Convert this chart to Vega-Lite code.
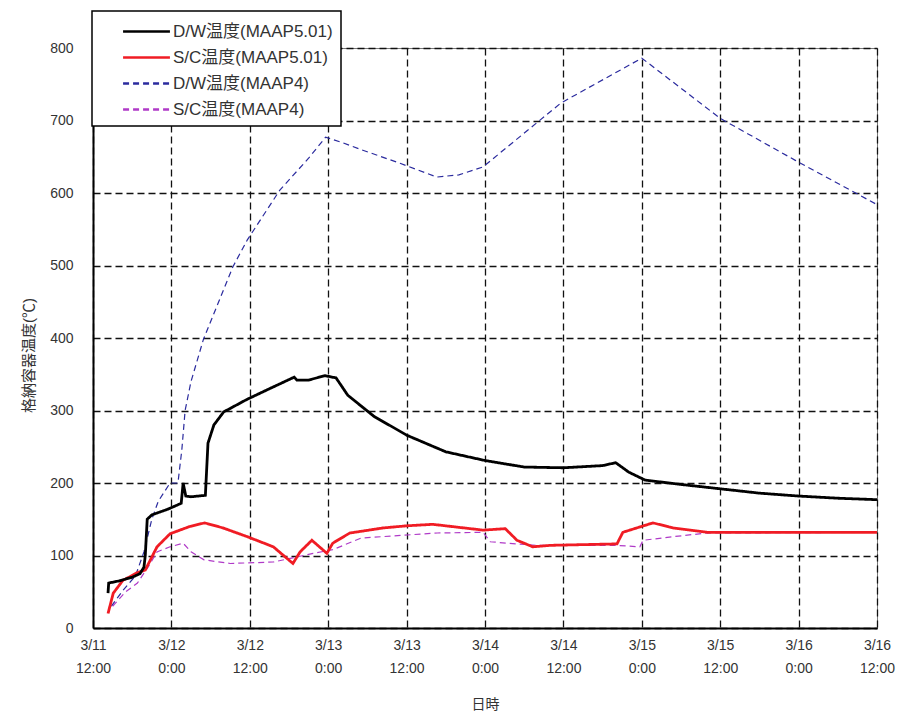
{
  "$schema": "https://vega.github.io/schema/vega-lite/v6.json",
  "width": 784,
  "height": 580,
  "autosize": "none",
  "padding": {"left": 93, "top": 48, "right": 26, "bottom": 90},
  "background": "white",
  "config": {
    "font": "Liberation Sans, Noto Sans CJK JP, sans-serif",
    "view": {"stroke": "#777", "strokeWidth": 1},
    "axis": {
      "domainColor": "#000",
      "domainWidth": 2,
      "grid": true,
      "gridColor": "#111",
      "gridDash": [7, 4],
      "gridWidth": 1.3,
      "gridOpacity": 1,
      "ticks": false,
      "labelColor": "#333",
      "labelFontSize": 14,
      "titleColor": "#333",
      "titleFontSize": 15,
      "titleFontWeight": "normal"
    },
    "legend": {
      "orient": "none",
      "legendX": -1,
      "legendY": -37,
      "fillColor": "white",
      "strokeColor": "#000",
      "strokeWidth": 1.5,
      "padding": 8,
      "symbolType": "M-2.13,0H2.13",
      "symbolSize": 484,
      "symbolStrokeWidth": 2.5,
      "symbolOffset": 34,
      "labelOffset": 14,
      "labelFontSize": 17,
      "labelColor": "#333",
      "rowPadding": 5
    }
  },
  "data": {
    "values": [
      {"series": "D/W温度(MAAP5.01)", "time": "2011-03-11T14:18:00Z", "temp": 48},
      {"series": "D/W温度(MAAP5.01)", "time": "2011-03-11T14:24:00Z", "temp": 62},
      {"series": "D/W温度(MAAP5.01)", "time": "2011-03-11T16:00:00Z", "temp": 65},
      {"series": "D/W温度(MAAP5.01)", "time": "2011-03-11T18:00:00Z", "temp": 70},
      {"series": "D/W温度(MAAP5.01)", "time": "2011-03-11T19:12:00Z", "temp": 75},
      {"series": "D/W温度(MAAP5.01)", "time": "2011-03-11T19:48:00Z", "temp": 84},
      {"series": "D/W温度(MAAP5.01)", "time": "2011-03-11T20:00:00Z", "temp": 100},
      {"series": "D/W温度(MAAP5.01)", "time": "2011-03-11T20:18:00Z", "temp": 150},
      {"series": "D/W温度(MAAP5.01)", "time": "2011-03-11T21:00:00Z", "temp": 156},
      {"series": "D/W温度(MAAP5.01)", "time": "2011-03-11T23:30:00Z", "temp": 164},
      {"series": "D/W温度(MAAP5.01)", "time": "2011-03-12T01:30:00Z", "temp": 172},
      {"series": "D/W温度(MAAP5.01)", "time": "2011-03-12T01:48:00Z", "temp": 200},
      {"series": "D/W温度(MAAP5.01)", "time": "2011-03-12T02:12:00Z", "temp": 182},
      {"series": "D/W温度(MAAP5.01)", "time": "2011-03-12T03:00:00Z", "temp": 181},
      {"series": "D/W温度(MAAP5.01)", "time": "2011-03-12T05:12:00Z", "temp": 183},
      {"series": "D/W温度(MAAP5.01)", "time": "2011-03-12T05:36:00Z", "temp": 255},
      {"series": "D/W温度(MAAP5.01)", "time": "2011-03-12T06:30:00Z", "temp": 280},
      {"series": "D/W温度(MAAP5.01)", "time": "2011-03-12T08:00:00Z", "temp": 298},
      {"series": "D/W温度(MAAP5.01)", "time": "2011-03-12T11:30:00Z", "temp": 315},
      {"series": "D/W温度(MAAP5.01)", "time": "2011-03-12T15:00:00Z", "temp": 330},
      {"series": "D/W温度(MAAP5.01)", "time": "2011-03-12T18:48:00Z", "temp": 346},
      {"series": "D/W温度(MAAP5.01)", "time": "2011-03-12T19:12:00Z", "temp": 342},
      {"series": "D/W温度(MAAP5.01)", "time": "2011-03-12T21:00:00Z", "temp": 342},
      {"series": "D/W温度(MAAP5.01)", "time": "2011-03-12T23:30:00Z", "temp": 348},
      {"series": "D/W温度(MAAP5.01)", "time": "2011-03-13T01:12:00Z", "temp": 345},
      {"series": "D/W温度(MAAP5.01)", "time": "2011-03-13T03:00:00Z", "temp": 321},
      {"series": "D/W温度(MAAP5.01)", "time": "2011-03-13T07:00:00Z", "temp": 292},
      {"series": "D/W温度(MAAP5.01)", "time": "2011-03-13T12:00:00Z", "temp": 266},
      {"series": "D/W温度(MAAP5.01)", "time": "2011-03-13T18:00:00Z", "temp": 243},
      {"series": "D/W温度(MAAP5.01)", "time": "2011-03-14T00:00:00Z", "temp": 231},
      {"series": "D/W温度(MAAP5.01)", "time": "2011-03-14T06:00:00Z", "temp": 222},
      {"series": "D/W温度(MAAP5.01)", "time": "2011-03-14T12:00:00Z", "temp": 221},
      {"series": "D/W温度(MAAP5.01)", "time": "2011-03-14T18:00:00Z", "temp": 224},
      {"series": "D/W温度(MAAP5.01)", "time": "2011-03-14T20:00:00Z", "temp": 228},
      {"series": "D/W温度(MAAP5.01)", "time": "2011-03-14T22:00:00Z", "temp": 215},
      {"series": "D/W温度(MAAP5.01)", "time": "2011-03-15T00:30:00Z", "temp": 204},
      {"series": "D/W温度(MAAP5.01)", "time": "2011-03-15T06:00:00Z", "temp": 198},
      {"series": "D/W温度(MAAP5.01)", "time": "2011-03-15T12:00:00Z", "temp": 192},
      {"series": "D/W温度(MAAP5.01)", "time": "2011-03-15T18:00:00Z", "temp": 186},
      {"series": "D/W温度(MAAP5.01)", "time": "2011-03-16T00:00:00Z", "temp": 182},
      {"series": "D/W温度(MAAP5.01)", "time": "2011-03-16T06:00:00Z", "temp": 179},
      {"series": "D/W温度(MAAP5.01)", "time": "2011-03-16T12:00:00Z", "temp": 177},

      {"series": "S/C温度(MAAP5.01)", "time": "2011-03-11T14:18:00Z", "temp": 20},
      {"series": "S/C温度(MAAP5.01)", "time": "2011-03-11T15:06:00Z", "temp": 48},
      {"series": "S/C温度(MAAP5.01)", "time": "2011-03-11T16:36:00Z", "temp": 66},
      {"series": "S/C温度(MAAP5.01)", "time": "2011-03-11T17:30:00Z", "temp": 70},
      {"series": "S/C温度(MAAP5.01)", "time": "2011-03-11T18:42:00Z", "temp": 76},
      {"series": "S/C温度(MAAP5.01)", "time": "2011-03-11T20:00:00Z", "temp": 80},
      {"series": "S/C温度(MAAP5.01)", "time": "2011-03-11T21:48:00Z", "temp": 112},
      {"series": "S/C温度(MAAP5.01)", "time": "2011-03-11T23:48:00Z", "temp": 130},
      {"series": "S/C温度(MAAP5.01)", "time": "2011-03-12T02:48:00Z", "temp": 140},
      {"series": "S/C温度(MAAP5.01)", "time": "2011-03-12T05:06:00Z", "temp": 145},
      {"series": "S/C温度(MAAP5.01)", "time": "2011-03-12T07:54:00Z", "temp": 138},
      {"series": "S/C温度(MAAP5.01)", "time": "2011-03-12T11:36:00Z", "temp": 126},
      {"series": "S/C温度(MAAP5.01)", "time": "2011-03-12T15:36:00Z", "temp": 112},
      {"series": "S/C温度(MAAP5.01)", "time": "2011-03-12T18:36:00Z", "temp": 89},
      {"series": "S/C温度(MAAP5.01)", "time": "2011-03-12T19:42:00Z", "temp": 105},
      {"series": "S/C温度(MAAP5.01)", "time": "2011-03-12T21:30:00Z", "temp": 121},
      {"series": "S/C温度(MAAP5.01)", "time": "2011-03-12T23:48:00Z", "temp": 103},
      {"series": "S/C温度(MAAP5.01)", "time": "2011-03-13T00:42:00Z", "temp": 117},
      {"series": "S/C温度(MAAP5.01)", "time": "2011-03-13T03:18:00Z", "temp": 131},
      {"series": "S/C温度(MAAP5.01)", "time": "2011-03-13T08:24:00Z", "temp": 138},
      {"series": "S/C温度(MAAP5.01)", "time": "2011-03-13T12:06:00Z", "temp": 141},
      {"series": "S/C温度(MAAP5.01)", "time": "2011-03-13T16:00:00Z", "temp": 143},
      {"series": "S/C温度(MAAP5.01)", "time": "2011-03-13T23:42:00Z", "temp": 135},
      {"series": "S/C温度(MAAP5.01)", "time": "2011-03-14T03:06:00Z", "temp": 137},
      {"series": "S/C温度(MAAP5.01)", "time": "2011-03-14T04:54:00Z", "temp": 121},
      {"series": "S/C温度(MAAP5.01)", "time": "2011-03-14T07:18:00Z", "temp": 112},
      {"series": "S/C温度(MAAP5.01)", "time": "2011-03-14T10:00:00Z", "temp": 114},
      {"series": "S/C温度(MAAP5.01)", "time": "2011-03-14T20:12:00Z", "temp": 116},
      {"series": "S/C温度(MAAP5.01)", "time": "2011-03-14T21:06:00Z", "temp": 132},
      {"series": "S/C温度(MAAP5.01)", "time": "2011-03-15T01:42:00Z", "temp": 145},
      {"series": "S/C温度(MAAP5.01)", "time": "2011-03-15T04:48:00Z", "temp": 138},
      {"series": "S/C温度(MAAP5.01)", "time": "2011-03-15T10:00:00Z", "temp": 132},
      {"series": "S/C温度(MAAP5.01)", "time": "2011-03-16T12:00:00Z", "temp": 132},

      {"series": "D/W温度(MAAP4)", "time": "2011-03-11T14:48:00Z", "temp": 30},
      {"series": "D/W温度(MAAP4)", "time": "2011-03-11T16:36:00Z", "temp": 52},
      {"series": "D/W温度(MAAP4)", "time": "2011-03-11T18:30:00Z", "temp": 72},
      {"series": "D/W温度(MAAP4)", "time": "2011-03-11T19:48:00Z", "temp": 105},
      {"series": "D/W温度(MAAP4)", "time": "2011-03-11T21:00:00Z", "temp": 150},
      {"series": "D/W温度(MAAP4)", "time": "2011-03-11T22:00:00Z", "temp": 175},
      {"series": "D/W温度(MAAP4)", "time": "2011-03-11T23:48:00Z", "temp": 200},
      {"series": "D/W温度(MAAP4)", "time": "2011-03-12T01:00:00Z", "temp": 200},
      {"series": "D/W温度(MAAP4)", "time": "2011-03-12T01:36:00Z", "temp": 246},
      {"series": "D/W温度(MAAP4)", "time": "2011-03-12T02:06:00Z", "temp": 300},
      {"series": "D/W温度(MAAP4)", "time": "2011-03-12T03:00:00Z", "temp": 340},
      {"series": "D/W温度(MAAP4)", "time": "2011-03-12T04:54:00Z", "temp": 398},
      {"series": "D/W温度(MAAP4)", "time": "2011-03-12T09:24:00Z", "temp": 498},
      {"series": "D/W温度(MAAP4)", "time": "2011-03-12T11:36:00Z", "temp": 535},
      {"series": "D/W温度(MAAP4)", "time": "2011-03-12T16:36:00Z", "temp": 604},
      {"series": "D/W温度(MAAP4)", "time": "2011-03-12T21:00:00Z", "temp": 648},
      {"series": "D/W温度(MAAP4)", "time": "2011-03-12T23:36:00Z", "temp": 677},
      {"series": "D/W温度(MAAP4)", "time": "2011-03-13T02:00:00Z", "temp": 670},
      {"series": "D/W温度(MAAP4)", "time": "2011-03-13T05:00:00Z", "temp": 660},
      {"series": "D/W温度(MAAP4)", "time": "2011-03-13T11:00:00Z", "temp": 641},
      {"series": "D/W温度(MAAP4)", "time": "2011-03-13T16:36:00Z", "temp": 622},
      {"series": "D/W温度(MAAP4)", "time": "2011-03-13T20:00:00Z", "temp": 625},
      {"series": "D/W温度(MAAP4)", "time": "2011-03-13T23:42:00Z", "temp": 636},
      {"series": "D/W温度(MAAP4)", "time": "2011-03-14T11:36:00Z", "temp": 724},
      {"series": "D/W温度(MAAP4)", "time": "2011-03-15T00:00:00Z", "temp": 786},
      {"series": "D/W温度(MAAP4)", "time": "2011-03-15T12:00:00Z", "temp": 703},
      {"series": "D/W温度(MAAP4)", "time": "2011-03-15T23:30:00Z", "temp": 645},
      {"series": "D/W温度(MAAP4)", "time": "2011-03-16T12:00:00Z", "temp": 584},

      {"series": "S/C温度(MAAP4)", "time": "2011-03-11T15:00:00Z", "temp": 30},
      {"series": "S/C温度(MAAP4)", "time": "2011-03-11T17:00:00Z", "temp": 50},
      {"series": "S/C温度(MAAP4)", "time": "2011-03-11T18:48:00Z", "temp": 62},
      {"series": "S/C温度(MAAP4)", "time": "2011-03-11T20:30:00Z", "temp": 85},
      {"series": "S/C温度(MAAP4)", "time": "2011-03-11T21:48:00Z", "temp": 105},
      {"series": "S/C温度(MAAP4)", "time": "2011-03-11T23:48:00Z", "temp": 112},
      {"series": "S/C温度(MAAP4)", "time": "2011-03-12T01:48:00Z", "temp": 117},
      {"series": "S/C温度(MAAP4)", "time": "2011-03-12T03:00:00Z", "temp": 105},
      {"series": "S/C温度(MAAP4)", "time": "2011-03-12T05:00:00Z", "temp": 94},
      {"series": "S/C温度(MAAP4)", "time": "2011-03-12T09:00:00Z", "temp": 89},
      {"series": "S/C温度(MAAP4)", "time": "2011-03-12T15:36:00Z", "temp": 91},
      {"series": "S/C温度(MAAP4)", "time": "2011-03-12T19:12:00Z", "temp": 98},
      {"series": "S/C温度(MAAP4)", "time": "2011-03-12T21:42:00Z", "temp": 103},
      {"series": "S/C温度(MAAP4)", "time": "2011-03-13T00:42:00Z", "temp": 108},
      {"series": "S/C温度(MAAP4)", "time": "2011-03-13T05:00:00Z", "temp": 124},
      {"series": "S/C温度(MAAP4)", "time": "2011-03-13T11:30:00Z", "temp": 128},
      {"series": "S/C温度(MAAP4)", "time": "2011-03-13T16:42:00Z", "temp": 131},
      {"series": "S/C温度(MAAP4)", "time": "2011-03-13T23:42:00Z", "temp": 132},
      {"series": "S/C温度(MAAP4)", "time": "2011-03-14T00:48:00Z", "temp": 119},
      {"series": "S/C温度(MAAP4)", "time": "2011-03-14T03:24:00Z", "temp": 117},
      {"series": "S/C温度(MAAP4)", "time": "2011-03-14T08:00:00Z", "temp": 114},
      {"series": "S/C温度(MAAP4)", "time": "2011-03-14T20:00:00Z", "temp": 114},
      {"series": "S/C温度(MAAP4)", "time": "2011-03-14T23:42:00Z", "temp": 112},
      {"series": "S/C温度(MAAP4)", "time": "2011-03-15T00:12:00Z", "temp": 121},
      {"series": "S/C温度(MAAP4)", "time": "2011-03-15T04:48:00Z", "temp": 126},
      {"series": "S/C温度(MAAP4)", "time": "2011-03-15T10:00:00Z", "temp": 131},
      {"series": "S/C温度(MAAP4)", "time": "2011-03-16T12:00:00Z", "temp": 132}
    ]
  },
  "encoding": {
    "x": {
      "field": "time",
      "type": "temporal",
      "title": "日時",
      "scale": {
        "type": "utc",
        "domain": [
          {"year": 2011, "month": 3, "date": 11, "hours": 12, "utc": true},
          {"year": 2011, "month": 3, "date": 16, "hours": 12, "utc": true}
        ]
      },
      "axis": {
        "values": [
          {"year": 2011, "month": 3, "date": 11, "hours": 12, "utc": true},
          {"year": 2011, "month": 3, "date": 12, "hours": 0, "utc": true},
          {"year": 2011, "month": 3, "date": 12, "hours": 12, "utc": true},
          {"year": 2011, "month": 3, "date": 13, "hours": 0, "utc": true},
          {"year": 2011, "month": 3, "date": 13, "hours": 12, "utc": true},
          {"year": 2011, "month": 3, "date": 14, "hours": 0, "utc": true},
          {"year": 2011, "month": 3, "date": 14, "hours": 12, "utc": true},
          {"year": 2011, "month": 3, "date": 15, "hours": 0, "utc": true},
          {"year": 2011, "month": 3, "date": 15, "hours": 12, "utc": true},
          {"year": 2011, "month": 3, "date": 16, "hours": 0, "utc": true},
          {"year": 2011, "month": 3, "date": 16, "hours": 12, "utc": true}
        ],
        "labelExpr": "[utcFormat(datum.value, '%-m/%-d'), utcFormat(datum.value, '%-H:%M')]",
        "labelLineHeight": 23,
        "labelPadding": 10,
        "labelFlush": false,
        "labelOverlap": false,
        "titlePadding": 22,
        "titleFontSize": 14
      }
    },
    "y": {
      "field": "temp",
      "type": "quantitative",
      "title": "格納容器温度(℃)",
      "scale": {"domain": [0, 800], "nice": false},
      "axis": {
        "values": [0, 100, 200, 300, 400, 500, 600, 700, 800],
        "labelPadding": 20,
        "titleX": -57,
        "titleY": 307
      }
    },
    "color": {
      "field": "series",
      "type": "nominal",
      "title": null,
      "scale": {
        "domain": ["D/W温度(MAAP5.01)", "S/C温度(MAAP5.01)", "D/W温度(MAAP4)", "S/C温度(MAAP4)"],
        "range": ["#000000", "#f01c24", "#2b2b9e", "#b03ac8"]
      }
    },
    "strokeDash": {
      "field": "series",
      "type": "nominal",
      "title": null,
      "scale": {
        "domain": ["D/W温度(MAAP5.01)", "S/C温度(MAAP5.01)", "D/W温度(MAAP4)", "S/C温度(MAAP4)"],
        "range": [[1, 0], [1, 0], [6, 4], [6, 4]]
      }
    }
  },
  "layer": [
    {
      "transform": [{"filter": "datum.series === 'S/C温度(MAAP4)'"}],
      "mark": {"type": "line", "strokeWidth": 1.2}
    },
    {
      "transform": [{"filter": "datum.series === 'D/W温度(MAAP4)'"}],
      "mark": {"type": "line", "strokeWidth": 1.2}
    },
    {
      "transform": [{"filter": "datum.series === 'S/C温度(MAAP5.01)'"}],
      "mark": {"type": "line", "strokeWidth": 2.8}
    },
    {
      "transform": [{"filter": "datum.series === 'D/W温度(MAAP5.01)'"}],
      "mark": {"type": "line", "strokeWidth": 2.8}
    }
  ]
}
